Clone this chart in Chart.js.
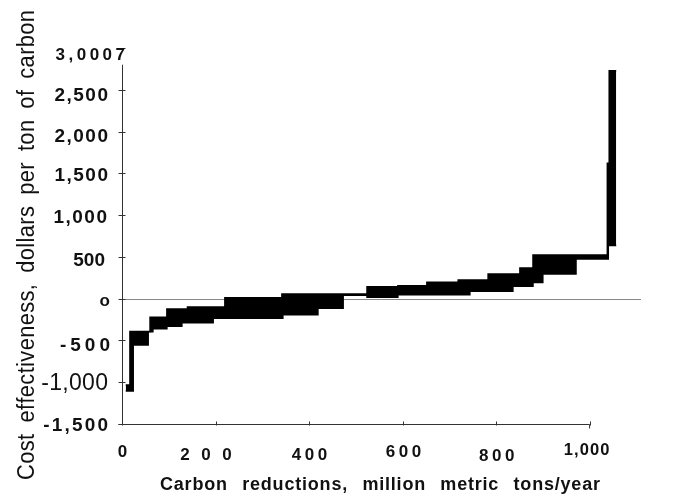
<!DOCTYPE html>
<html>
<head>
<meta charset="utf-8">
<script src="https://cdn.jsdelivr.net/npm/chart.js@4"></script>
<style>
  body { margin: 0; background: #fff; }
  canvas { display: block; }
</style>
</head>
<body>
<canvas id="chart" width="677" height="498"></canvas>
<script>
// band edges: x = million metric tons/year, y = $ per ton
const upperX = [8, 17, 60, 96, 140, 220, 342, 524, 590, 652, 719, 783, 851, 879, 1038, 1042, 1057];
const upperY = [-1032, -392, -222, -124, -100, 10, 56, 144, 156, 196, 222, 296, 366, 522, 1620, 2728, 2728];
const lowerX = [8, 24, 56, 66, 96, 128, 195, 344, 419, 473, 524, 590, 744, 836, 879, 900, 971, 1040, 1057];
const lowerY = [-1104, -554, -396, -360, -330, -288, -234, -192, -114, 40, 16, 48, 90, 150, 192, 296, 476, 636, 636];

const xTicks = [0, 200, 400, 600, 800, 1000];
const xTickLabels = ["0", "200", "400", "600", "800", "1,000"];
const yTicks = [-1500, -1000, -500, 0, 500, 1000, 1500, 2000, 2500, 3000];
const yTickLabels = ["-1,500", "-1,000", "-500", "o", "500", "1,000", "1,500", "2,000", "2,500", "3,0007"];
const xTitle = "Carbon reductions, million metric tons/year";
const yTitle = "Cost effectiveness, dollars per ton of carbon";

const FF = '"Liberation Sans", Arial, sans-serif';

// the scanned labels use mixed fonts / spacing
const yLabelStyle = [
  { font: `bold 19px ${FF}`, ls: 2.2, right: 108, dy: 0 },
  { font: `23px ${FF}`, ls: 0.3, right: 108, dy: 0 },
  { font: `bold 19px ${FF}`, ls: 4, right: 110, dy: 3.5 },
  { font: `bold 17px ${FF}`, ls: 0, right: 110, dy: 3 },
  { font: `bold 19px ${FF}`, ls: 0, right: 105, dy: 2 },
  { font: `bold 19px ${FF}`, ls: 1.5, right: 107, dy: 1 },
  { font: `bold 19px ${FF}`, ls: 1.5, right: 108, dy: 1.3 },
  { font: `bold 19px ${FF}`, ls: 1.5, right: 108, dy: 3.4 },
  { font: `bold 19px ${FF}`, ls: 1.5, right: 108, dy: 4 },
  { font: `bold 17px ${FF}`, ls: 3.5, right: 125, dy: 6 }
];
const xLabelStyle = [
  { font: `bold 17px ${FF}`, ls: 0, dx: 0.5, dy: 26 },
  { font: `bold 17px ${FF}`, ls: 11.5, dx: -9.5, dy: 29 },
  { font: `bold 17px ${FF}`, ls: 3.5, dx: 0.5, dy: 29 },
  { font: `bold 17px ${FF}`, ls: 3.5, dx: 1, dy: 26 },
  { font: `bold 17px ${FF}`, ls: 3.5, dx: 0.7, dy: 30 },
  { font: `bold 16.5px ${FF}`, ls: 1.1, dx: -3, dy: 25 }
];

function fontSize(font) {
  return parseFloat(font.match(/([\d.]+)px/)[1]);
}

// draw text char by char with extra letter spacing
function drawSpaced(ctx, text, x, y, font, ls, align) {
  ctx.font = font;
  ctx.textAlign = "left";
  const chars = [...text];
  const ws = chars.map(c => ctx.measureText(c).width);
  const total = ws.reduce((a, b) => a + b, 0) + ls * (chars.length - 1);
  let cx = align === "right" ? x - total : align === "center" ? x - total / 2 : x;
  chars.forEach((c, i) => {
    ctx.fillText(c, cx, y);
    cx += ws[i] + ls;
  });
}

// spread words so the line spans the given width
function drawFitted(ctx, text, cx, y, font, ls, width) {
  ctx.font = font;
  ctx.textAlign = "left";
  const words = text.split(" ");
  const wordW = words.map(w => {
    const chars = [...w];
    return chars.reduce((a, c) => a + ctx.measureText(c).width, 0) + ls * (chars.length - 1);
  });
  const gap = (width - wordW.reduce((a, b) => a + b, 0)) / (words.length - 1);
  let x = cx - width / 2;
  words.forEach((w, i) => {
    drawSpaced(ctx, w, x, y, font, ls, "left");
    x += wordW[i] + gap;
  });
}

const axesPlugin = {
  id: "scanAxes",
  beforeDatasetsDraw(chart) {
    const ctx = chart.ctx;
    const xs = chart.scales.x, ys = chart.scales.y;
    const y0 = Math.round(ys.getPixelForValue(0)) + 0.5;
    ctx.save();
    ctx.strokeStyle = "#888";
    ctx.lineWidth = 1;
    ctx.beginPath();
    ctx.moveTo(xs.left, y0);
    ctx.lineTo(xs.right, y0);
    ctx.stroke();
    ctx.restore();
  },
  afterDatasetsDraw(chart) {
    const ctx = chart.ctx;
    const xs = chart.scales.x, ys = chart.scales.y;
    const ax = Math.round(xs.getPixelForValue(0)) + 0.5;
    const ay = Math.round(ys.getPixelForValue(-1500)) + 0.5;
    const xEnd = xs.getPixelForValue(1000);

    ctx.save();
    ctx.strokeStyle = "#333";
    ctx.lineWidth = 1;
    ctx.beginPath();
    // y axis
    ctx.moveTo(ax, ys.getPixelForValue(2800));
    ctx.lineTo(ax, ay);
    // x axis (stops at 1,000 with a little hook)
    ctx.moveTo(ax - 4, ay);
    ctx.lineTo(xEnd, ay);
    ctx.lineTo(xEnd, ay + 4);
    yTicks.forEach(v => {
      const py = Math.round(ys.getPixelForValue(v)) + 0.5;
      ctx.moveTo(ax - 4, py);
      ctx.lineTo(ax + 3, py);
    });
    xTicks.forEach(v => {
      const px = Math.round(xs.getPixelForValue(v)) + 0.5;
      ctx.moveTo(px, ay - 3);
      ctx.lineTo(px, ay + 1);
    });
    ctx.stroke();

    ctx.fillStyle = "#111";
    ctx.textBaseline = "alphabetic";
    yTickLabels.forEach((lab, i) => {
      const st = yLabelStyle[i];
      const py = ys.getPixelForValue(yTicks[i]) + st.dy;
      const cap = lab === "o" ? 0.26 : 0.358;
      drawSpaced(ctx, lab, st.right, py + cap * fontSize(st.font), st.font, st.ls, "right");
    });
    xTickLabels.forEach((lab, i) => {
      const st = xLabelStyle[i];
      const px = xs.getPixelForValue(xTicks[i]) + st.dx;
      drawSpaced(ctx, lab, px, ay + st.dy + 0.358 * fontSize(st.font), st.font, st.ls, "center");
    });

    // axis titles
    drawFitted(ctx, xTitle, 380, 489.5, `bold 18px ${FF}`, 0.8, 440);
    // y title: slightly condensed, larger type as in the scan
    ctx.translate(34, 245);
    ctx.rotate(-Math.PI / 2);
    ctx.scale(0.95, 1);
    drawFitted(ctx, yTitle, 0, 0, `23px ${FF}`, 0.4, 470 / 0.95);
    ctx.restore();
  }
};

new Chart(document.getElementById("chart"), {
  type: "line",
  data: {
    datasets: [
      {
        data: lowerX.map((x, i) => ({ x, y: lowerY[i] })),
        stepped: true,
        borderColor: "#000",
        borderWidth: 1.5,
        pointRadius: 0,
        fill: false
      },
      {
        data: upperX.map((x, i) => ({ x, y: upperY[i] })),
        stepped: true,
        borderColor: "#000",
        borderWidth: 1.5,
        pointRadius: 0,
        backgroundColor: "#000",
        fill: "-1"
      }
    ]
  },
  options: {
    responsive: false,
    animation: false,
    layout: { padding: { left: 122, right: 36, top: 48, bottom: 74 } },
    plugins: { legend: { display: false }, tooltip: { enabled: false } },
    scales: {
      x: { type: "linear", min: 0, max: 1110, display: false },
      y: { min: -1500, max: 3000, display: false }
    }
  },
  plugins: [axesPlugin]
});
</script>
</body>
</html>
